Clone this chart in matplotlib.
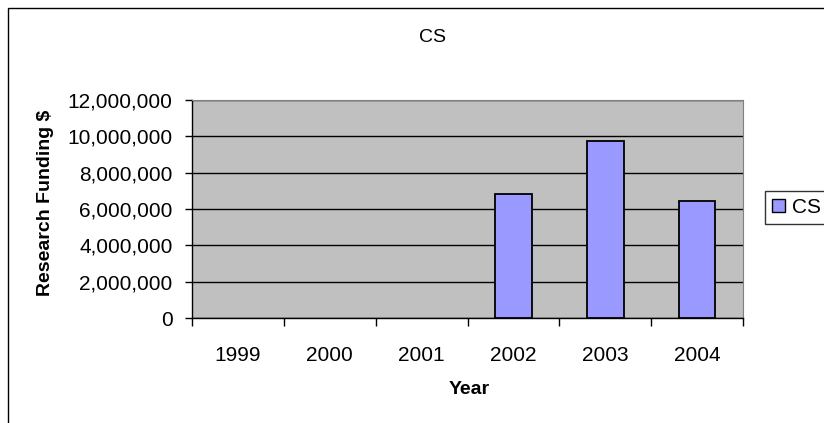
import matplotlib.pyplot as plt
import matplotlib.patches as mpatches
import numpy as np
from matplotlib.ticker import FuncFormatter

plt.rcParams['font.family'] = ['Liberation Sans', 'DejaVu Sans']

# research funding per year (CS)
series_name = 'CS'
years = ['1999', '2000', '2001', '2002', '2003', '2004']
funding = [0, 0, 0, 6800000, 9750000, 6450000]
y_ticks = [0, 2000000, 4000000, 6000000, 8000000, 10000000, 12000000]

bar_color = '#9999FF'

fig = plt.figure(figsize=(8.24, 4.23), dpi=100)
fig.patch.set_facecolor('white')

# outer chart frame
fig.add_artist(mpatches.Rectangle((8 / 824, -0.1), 1.2, (423 - 8) / 423 + 0.1,
                                  transform=fig.transFigure, fill=False,
                                  edgecolor='black', linewidth=1.0))

ax = fig.add_axes([192 / 824, (423 - 318) / 423, (743 - 192) / 824, (318 - 100) / 423])
ax.set_facecolor('#C0C0C0')

x = np.arange(len(years))
edges = ['black' if v > 0 else 'none' for v in funding]
ax.bar(x, funding, width=0.4, color=bar_color, edgecolor=edges, linewidth=1.3,
       zorder=3)

ax.set_xlim(-0.5, len(years) - 0.5)
ax.set_ylim(0, 12000000)
ax.set_yticks(y_ticks)
ax.yaxis.set_major_formatter(FuncFormatter(lambda v, p: f'{int(v):,}'))
ax.grid(axis='y', color='black', linewidth=1.0, zorder=1)

# category boundaries carry the tick marks, labels sit in the middle
ax.set_xticks(np.arange(len(years) + 1) - 0.5)
ax.set_xticklabels([])
ax.set_xticks(x, minor=True)
ax.set_xticklabels(years, minor=True)
ax.tick_params(axis='x', which='major', length=6, width=1, color='black', direction='out')
ax.tick_params(axis='x', which='minor', length=0, pad=20, labelsize=15)
ax.tick_params(axis='y', length=5, width=1, direction='out', labelsize=15, pad=9)

for side in ['top', 'right']:
    ax.spines[side].set_color('#808080')
    ax.spines[side].set_linewidth(0.8)
for side in ['left', 'bottom']:
    ax.spines[side].set_color('black')
    ax.spines[side].set_linewidth(1.0)

ax.set_xlabel('Year', fontsize=14, fontweight='bold')
ax.set_ylabel('Research Funding $', fontsize=14, fontweight='bold')
ax.xaxis.set_label_coords(0.503, -0.326)
ax.yaxis.set_label_coords(-0.265, 0.527)
ax.xaxis.label.set_va('center')
ax.yaxis.label.set_va('center')
fig.text(432 / 824, (423 - 37) / 423, series_name, ha='center', va='center', fontsize=14)

handle = mpatches.Patch(facecolor=bar_color, edgecolor='black', linewidth=1.0,
                        label=series_name)
leg = fig.legend(handles=[handle], loc='center left',
                 bbox_to_anchor=(765 / 824, (423 - 207.5) / 423),
                 fontsize=15, frameon=True, fancybox=False, handlelength=0.6,
                 handleheight=0.6, handletextpad=0.35, borderpad=0.35, borderaxespad=0)
leg.get_frame().set_edgecolor('black')
leg.get_frame().set_linewidth(1.0)

fig.savefig('out.png', dpi=100)
